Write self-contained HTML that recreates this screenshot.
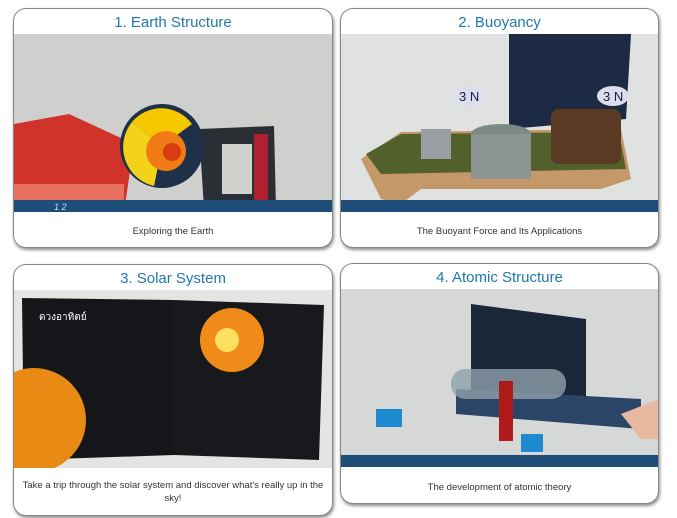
<!DOCTYPE html>
<html><head><meta charset="utf-8"><style>
body{margin:0;width:677px;height:518px;background:#fff;position:relative;overflow:hidden;font-family:"Liberation Sans",sans-serif}
.card{position:absolute;border:1px solid #888;border-radius:13px;background:#fff;box-shadow:1px 2px 3px rgba(0,0,0,.45);overflow:hidden}
.t{position:absolute;left:0;right:0;top:5px;text-align:center;color:#2079ad;font-size:15px}
.img{position:absolute;left:0;top:25px;width:318px;height:178px}
.c{position:absolute;left:0;right:0;text-align:center;font-size:9.5px;color:#333;line-height:13px;padding:0 10px}
</style></head><body>

<div class="card" style="left:13px;top:8px;width:318px;height:238px">
<div class="t">1. Earth Structure</div>
<svg class="img" viewBox="0 0 318 178">
<rect width="318" height="178" fill="#cfd0ce"/>
<polygon points="185,95 260,92 262,175 190,175" fill="#2a2f36"/>
<rect x="208" y="110" width="30" height="50" fill="#d0d0cc"/>
<rect x="240" y="100" width="14" height="75" fill="#b02030"/>
<polygon points="0,90 55,80 120,110 110,178 0,178" fill="#d0332a"/>
<polygon points="0,150 110,150 110,178 0,178" fill="#e87060"/>
<circle cx="148" cy="112" r="42" fill="#1e3148"/>
<path d="M148,112 L118,88 A40,40 0 0 0 140,152 Z" fill="#f3d21a"/>
<path d="M148,112 L118,88 A38,38 0 0 1 178,90 Z" fill="#f5c800"/>
<circle cx="152" cy="117" r="20" fill="#f07a14"/>
<circle cx="158" cy="118" r="9" fill="#d83c10"/>
<rect x="0" y="166" width="318" height="12" fill="#1d4d78"/>
<text x="40" y="176" fill="#cde" font-size="9" font-style="italic">1    2</text>
</svg>
<div class="c" style="top:216px">Exploring the Earth</div>
</div>

<div class="card" style="left:340px;top:8px;width:317px;height:238px">
<div class="t">2. Buoyancy</div>
<svg class="img" viewBox="0 0 318 178">
<rect width="318" height="178" fill="#dfe2e0"/>
<polygon points="168,0 290,0 285,85 168,95" fill="#1d2a44"/>
<polygon points="20,125 60,98 280,95 290,145 260,155 80,155 60,170 40,165" fill="#c49868"/>
<polygon points="25,120 60,100 278,98 285,135 40,140" fill="#52602c"/>
<rect x="80" y="95" width="30" height="30" fill="#9a9ea2"/>
<ellipse cx="160" cy="100" rx="30" ry="10" fill="#7c8a86"/>
<rect x="130" y="100" width="60" height="45" fill="#8c9492"/>
<rect x="210" y="75" width="70" height="55" rx="8" fill="#5a3a22"/>
<ellipse cx="128" cy="62" rx="16" ry="10" fill="#dde"/>
<text x="118" y="67" fill="#124" font-size="13">3 N</text>
<ellipse cx="272" cy="62" rx="16" ry="10" fill="#dde"/>
<text x="262" y="67" fill="#124" font-size="13">3 N</text>
<rect x="0" y="166" width="318" height="12" fill="#1d4d78"/>
</svg>
<div class="c" style="top:216px">The Buoyant Force and Its Applications</div>
</div>

<div class="card" style="left:13px;top:264px;width:318px;height:250px">
<div class="t">3. Solar System</div>
<svg class="img" viewBox="0 0 318 178">
<rect width="318" height="178" fill="#e4e4e2"/>
<polygon points="8,8 160,10 160,165 10,170" fill="#15161a"/>
<polygon points="160,10 310,15 305,170 160,165" fill="#18191d"/>
<circle cx="20" cy="130" r="52" fill="#e88a14"/>
<circle cx="218" cy="50" r="32" fill="#f08a18"/>
<circle cx="213" cy="50" r="12" fill="#fde060"/>
<text x="25" y="30" fill="#fff" font-size="10">ดวงอาทิตย์</text>
</svg>
<div class="c" style="top:214px;padding:0 6px">Take a trip through the solar system and discover what's really up in the sky!</div>
</div>

<div class="card" style="left:340px;top:263px;width:317px;height:239px">
<div class="t">4. Atomic Structure</div>
<svg class="img" viewBox="0 0 318 178">
<rect width="318" height="178" fill="#d6d8d8"/>
<polygon points="130,15 245,30 245,115 130,110" fill="#1b2638"/>
<polygon points="115,100 300,110 300,140 115,125" fill="#2b4566"/>
<rect x="110" y="80" width="115" height="30" rx="14" fill="#8ea0aa" opacity=".8"/>
<rect x="158" y="92" width="14" height="60" fill="#b01a1a"/>
<rect x="35" y="120" width="26" height="18" fill="#1e8ad0"/>
<rect x="180" y="145" width="22" height="18" fill="#1e8ad0"/>
<polygon points="280,125 318,110 318,150 300,150" fill="#e8b8a0"/>
<rect x="0" y="166" width="318" height="12" fill="#1d4d78"/>
</svg>
<div class="c" style="top:217px">The development of atomic theory</div>
</div>

</body></html>
